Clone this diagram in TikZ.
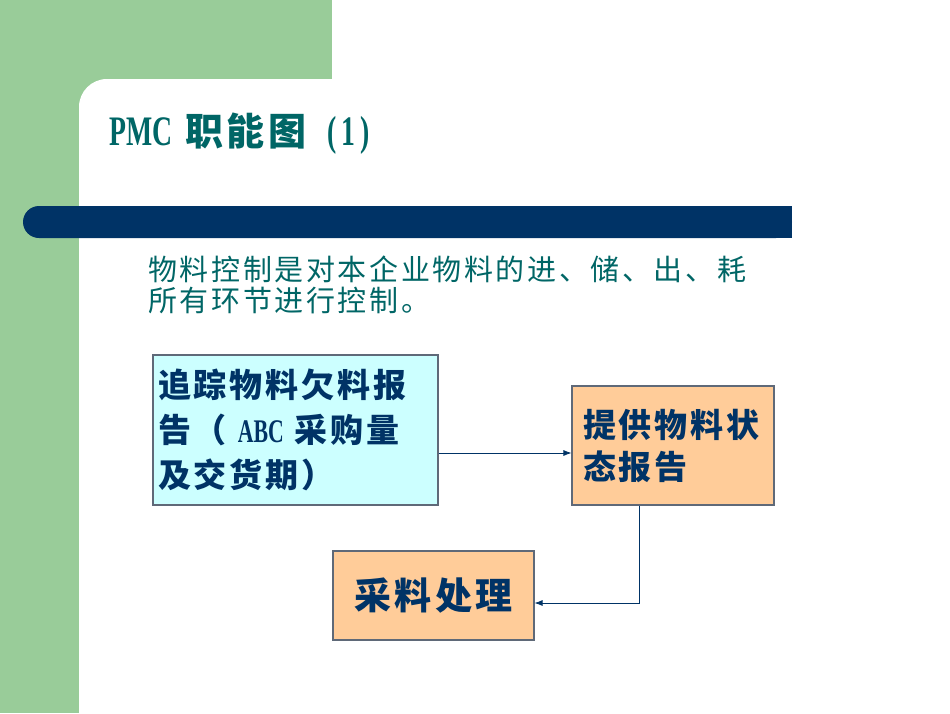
\documentclass[tikz,border=0pt]{standalone}
\usepackage{fontspec}
\usepackage{xcolor}
\usetikzlibrary{arrows.meta}
\newfontfamily\cjkfont[LetterSpace=9]{Noto Sans CJK SC}
\newfontfamily\latinfont[FakeStretch=0.66]{Liberation Serif Bold}
\definecolor{sidegreen}{RGB}{153, 204, 153}
\definecolor{barnavy}{RGB}{0,  51, 102}
\definecolor{titleteal}{RGB}{0, 102, 102}
\definecolor{paleaqua}{RGB}{204, 255, 255}
\definecolor{paleorange}{RGB}{255, 204, 153}
\definecolor{boxgray}{RGB}{95, 105, 120}

\begin{document}
\begin{tikzpicture}[x=1pt, y=-1pt,
  box/.style={draw=boxgray, line width=1.1pt, inner xsep=5pt, inner ysep=0pt,
              text=barnavy},
  note/.style={font=\cjkfont\fontsize{29}{31}\selectfont, text=titleteal,
               align=left, inner sep=0pt},
  arrow/.style={-{Latex[length=8pt, width=6pt]}, line width=0.8pt, color=barnavy}
]
  \useasboundingbox (0,0) rectangle (950,713);
  % slide background
  \begin{scope}
    \clip (0,0) rectangle (950,713);
    \fill[white] (0,0) rectangle (950,713);
    \fill[sidegreen] (0,0) rectangle (332,110);
    \fill[sidegreen] (0,0) rectangle (110,713);
    \fill[white, rounded corners=28pt] (79,79) rectangle (1000,780);
  \end{scope}
  \fill[barnavy, rounded corners=16pt] (23,206) rectangle (792,238);
  \fill[barnavy] (760,206) rectangle (792,238);

  \node[anchor=base west, inner sep=0pt, text=titleteal,
        font=\fontsize{42}{46}\selectfont] (title) at (109,145)
    {{\latinfont PMC}\hspace{13pt}{\cjkfont\bfseries\fontsize{38}{40}\selectfont 职能图}\hspace{21pt}{\latinfont (\kern5pt1\kern5pt)}};

  \node[note, anchor=west] (intro) at (148,285)
    {物料控制是对本企业物料的进、储、出、耗\\所有环节进行控制。};

  \node[box, fill=paleaqua, minimum width=285pt, minimum height=150pt,
        text width=275pt, align=left,
        font=\cjkfont\bfseries\fontsize{33}{45}\selectfont] (track) at (295.5,430)
    {追踪物料欠料报\\告（ {\latinfont ABC} 采购量\\及交货期）};
  \node[box, fill=paleorange, minimum width=202pt, minimum height=119pt,
        text width=180pt, inner xsep=11pt, align=left,
        font=\cjkfont\bfseries\fontsize{33}{42}\selectfont] (status) at (673,445.5)
    {提供物料状\\态报告};
  \node[box, fill=paleorange, minimum width=201pt, minimum height=89pt,
        font=\cjkfont\bfseries\fontsize{37}{40}\selectfont] (handle) at (433.5,595.5)
    {采料处理};

  \coordinate (trackout) at ([yshift=-23pt]track.east);
  \coordinate (statusout) at ([xshift=-34pt]status.south);
  \coordinate (handlein) at ([yshift=-7.5pt]handle.east);
  \draw[arrow] (trackout) -- (trackout -| status.west);
  \draw[arrow] (statusout) |- (handlein);
\end{tikzpicture}
\end{document}
